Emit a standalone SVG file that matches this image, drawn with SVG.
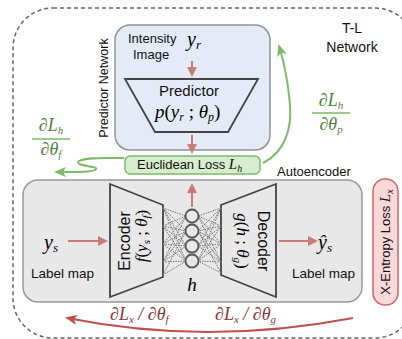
<svg xmlns="http://www.w3.org/2000/svg" width="402" height="339" viewBox="0 0 402 339">
<defs>
<style>
.sans{font-family:"Liberation Sans",Arial,sans-serif;fill:#111}
.math{font-family:"Liberation Serif","Times New Roman",serif;font-style:italic}
.up{font-style:normal}
.grn{fill:#4f7f40}
.dred{fill:#8a3535}
.conn{fill:none}
.dots{stroke:#777;stroke-width:1;stroke-dasharray:1.5 1;fill:none}
</style>
<marker id="ar" viewBox="0 0 10 10" refX="8" refY="5" markerWidth="5" markerHeight="5" orient="auto"><path d="M0,0 L10,5 L0,10 z" fill="#c97b7b"/></marker>
<marker id="ag2" viewBox="0 0 12 10" refX="10" refY="5" markerWidth="6" markerHeight="5" orient="auto"><path d="M0,0 L12,5 L0,10 L3,5 z" fill="#7dba69"/></marker>
<marker id="adr" viewBox="0 0 12 10" refX="10" refY="5" markerWidth="6" markerHeight="5" orient="auto"><path d="M0,0 L12,5 L0,10 L3,5 z" fill="#c0504d"/></marker>
</defs>
<rect width="402" height="339" fill="#ffffff"/>

<g id="tl-network">
<rect x="13" y="8" width="402" height="330" rx="40" fill="none" stroke="#666" stroke-width="1.5" stroke-dasharray="4 3"/>
<text class="sans" x="352" y="33" font-size="14" text-anchor="middle">T-L</text>
<text class="sans" x="352" y="52" font-size="14" text-anchor="middle">Network</text>
</g>

<g id="predictor-network">
<rect x="115" y="25" width="155" height="125" rx="15" fill="#e4ebf7" stroke="#8d939c" stroke-width="1.5"/>
<text class="sans" transform="translate(108,88) rotate(-90)" font-size="12.5" text-anchor="middle">Predictor Network</text>
<text class="sans" x="128" y="43" font-size="13">Intensity</text>
<text class="sans" x="133" y="59" font-size="13">Image</text>
<text class="math" x="187" y="46" font-size="20">y<tspan font-size="13" dy="3">r</tspan></text>
</g>

<g id="predictor">
<path d="M125,79 L258,79 L228,132 L155,132 Z" fill="none" stroke="#444" stroke-width="1.8"/>
<text class="sans" x="189" y="96" font-size="15" text-anchor="middle">Predictor</text>
<text class="math" x="155" y="118" font-size="19">p<tspan class="up">(</tspan>y<tspan font-size="12" dy="3">r</tspan><tspan class="up" dy="-3"> ; </tspan>θ<tspan font-size="12" dy="3">p</tspan><tspan class="up" dy="-3">)</tspan></text>
</g>

<g id="euclidean-loss">
<rect x="125" y="156" width="135" height="18" rx="5" fill="#d8ecce" stroke="#7dba69" stroke-width="1.5"/>
<text class="sans" x="137" y="169" font-size="13">Euclidean Loss <tspan class="math" font-size="15">L</tspan><tspan class="math" font-size="10" dy="3">h</tspan></text>
</g>

<g id="autoencoder">
<rect x="23" y="180" width="339" height="122" rx="15" fill="#e8e8e8" stroke="#999" stroke-width="1.5"/>
<text class="sans" x="277" y="176" font-size="13">Autoencoder</text>
<text class="math" x="44" y="249" font-size="20">y<tspan font-size="13" dy="3">s</tspan></text>
<text class="sans" x="31" y="278" font-size="13.5">Label map</text>
<text class="math" x="318" y="249" font-size="20">ŷ<tspan font-size="13" dy="3">s</tspan></text>
<text class="sans" x="292" y="278" font-size="13.5">Label map</text>
</g>

<g id="encoder">
<path d="M110,184 L163,205 L163,277 L110,297 Z" fill="none" stroke="#444" stroke-width="1.8"/>
<text class="sans" transform="translate(130,241) rotate(-90)" font-size="16" text-anchor="middle">Encoder</text>
<text class="math" transform="translate(147,236) rotate(-90)" font-size="17" text-anchor="middle">f<tspan class="up">(</tspan>y<tspan font-size="11" dy="3">s</tspan><tspan class="up" dy="-3"> ; </tspan>θ<tspan font-size="11" dy="3">f</tspan><tspan class="up" dy="-3">)</tspan></text>
</g>

<g id="decoder">
<path d="M221,205 L276,184 L276,297 L221,275 Z" fill="none" stroke="#444" stroke-width="1.8"/>
<text class="sans" transform="translate(258,241) rotate(90)" font-size="16" text-anchor="middle">Decoder</text>
<text class="math" transform="translate(237,241) rotate(90)" font-size="17" text-anchor="middle">g<tspan class="up">(</tspan>h<tspan class="up"> ; </tspan>θ<tspan font-size="11" dy="3">g</tspan><tspan class="up" dy="-3">)</tspan></text>
</g>

<g id="latent-h">
<g class="dots">
<path d="M163,208 L186,216 M163,208 L186,231 M163,208 L186,246 M163,208 L186,261 M163,226 L186,216 M163,226 L186,231 M163,226 L186,246 M163,226 L186,261 M163,244 L186,216 M163,244 L186,231 M163,244 L186,246 M163,244 L186,261 M163,262 L186,216 M163,262 L186,231 M163,262 L186,246 M163,262 L186,261 M163,275 L186,231 M163,275 L186,261"/>
<path d="M221,208 L198,216 M221,208 L198,231 M221,208 L198,246 M221,208 L198,261 M221,226 L198,216 M221,226 L198,231 M221,226 L198,246 M221,226 L198,261 M221,244 L198,216 M221,244 L198,231 M221,244 L198,246 M221,244 L198,261 M221,262 L198,216 M221,262 L198,231 M221,262 L198,246 M221,262 L198,261 M221,273 L198,231 M221,273 L198,261"/>
</g>
<circle cx="192" cy="216" r="6.5" fill="#e8e8e8" stroke="#555" stroke-width="1.8"/>
<circle cx="192" cy="231" r="6.5" fill="#e8e8e8" stroke="#555" stroke-width="1.8"/>
<circle cx="192" cy="246" r="6.5" fill="#e8e8e8" stroke="#555" stroke-width="1.8"/>
<circle cx="192" cy="261" r="6.5" fill="#e8e8e8" stroke="#555" stroke-width="1.8"/>
<text class="math" x="192" y="291" font-size="19" text-anchor="middle">h</text>
</g>

<g id="x-entropy-loss">
<rect x="373" y="179" width="25" height="126" rx="12" fill="#f8d8d8" stroke="#d26464" stroke-width="1.5"/>
<text class="sans" transform="translate(390,242) rotate(-90)" font-size="13" text-anchor="middle">X-Entropy Loss <tspan class="math" font-size="15">L</tspan><tspan class="math" font-size="10" dy="3">x</tspan></text>
</g>

<g id="connectors">
<path class="conn" d="M192,61 L192,75" stroke="#c97b7b" stroke-width="2" marker-end="url(#ar)"/>
<path class="conn" d="M192,135 L192,152" stroke="#c97b7b" stroke-width="2" marker-end="url(#ar)"/>
<path class="conn" d="M192,207 L192,185" stroke="#c97b7b" stroke-width="2" marker-end="url(#ar)"/>
<path class="conn" d="M68,241 L106,241" stroke="#c97b7b" stroke-width="2" marker-end="url(#ar)"/>
<path class="conn" d="M279,241 L316,241" stroke="#c97b7b" stroke-width="2" marker-end="url(#ar)"/>
<path class="conn" d="M124,158 C105,158 85,157 79,161 C73,166 98,166 96,169 C93,173 72,172 56,172" stroke="#7dba69" stroke-width="2" marker-end="url(#ag2)"/>
<path class="conn" d="M263,163 C285,152 292,128 290,105 C288,80 284,62 279,46" stroke="#7dba69" stroke-width="2" marker-end="url(#ag2)"/>
<path class="conn" d="M353,318 Q207,346 67,318" stroke="#c0504d" stroke-width="2" marker-end="url(#adr)"/>
</g>

<g id="gradient-labels">
<text class="math grn" x="51" y="131" font-size="18" text-anchor="middle"><tspan class="up">∂</tspan>L<tspan font-size="11" dy="3">h</tspan></text>
<line x1="32" y1="139" x2="70" y2="139" stroke="#7dba69" stroke-width="1.5"/>
<text class="math grn" x="51" y="155" font-size="18" text-anchor="middle"><tspan class="up">∂</tspan>θ<tspan font-size="11" dy="3">f</tspan></text>
<text class="math grn" x="331" y="106" font-size="18" text-anchor="middle"><tspan class="up">∂</tspan>L<tspan font-size="11" dy="3">h</tspan></text>
<line x1="312" y1="113" x2="350" y2="113" stroke="#7dba69" stroke-width="1.5"/>
<text class="math grn" x="331" y="130" font-size="18" text-anchor="middle"><tspan class="up">∂</tspan>θ<tspan font-size="11" dy="3">p</tspan></text>
<text class="math dred" x="110" y="320" font-size="18"><tspan class="up">∂</tspan>L<tspan font-size="11" dy="3">x</tspan><tspan dy="-3"> / </tspan><tspan class="up">∂</tspan>θ<tspan font-size="11" dy="3">f</tspan></text>
<text class="math dred" x="215" y="320" font-size="18"><tspan class="up">∂</tspan>L<tspan font-size="11" dy="3">x</tspan><tspan dy="-3"> / </tspan><tspan class="up">∂</tspan>θ<tspan font-size="11" dy="3">g</tspan></text>
</g>
</svg>
